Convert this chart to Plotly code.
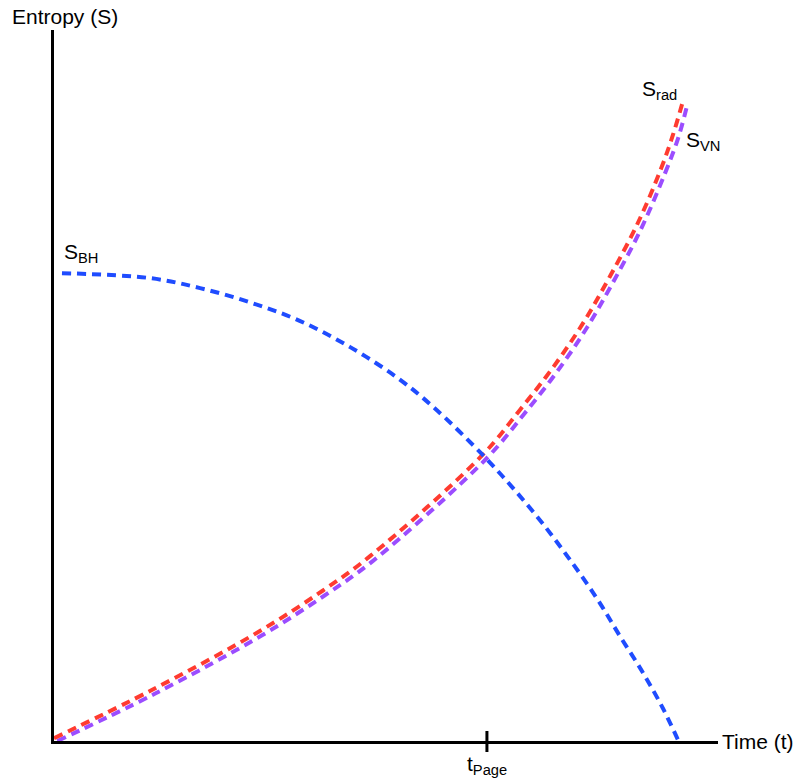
import plotly.graph_objects as go

# ---- data ----
t_bh = [0.12, 1.45, 2.20, 2.95, 3.70, 4.46, 5.17, 5.71, 6.46, 6.91, 7.35, 7.77, 8.18, 8.52, 8.87, 9.17, 9.40]
s_bh = [6.58, 6.51, 6.37, 6.17, 5.91, 5.54, 5.11, 4.70, 4.02, 3.56, 3.07, 2.55, 2.00, 1.48, 0.96, 0.46, 0.01]

t_rad = [0.00, 1.48, 3.07, 4.04, 4.76, 6.45, 7.02, 7.52, 7.97, 8.37, 8.78, 9.13, 9.32, 9.46]
s_rad = [0.04, 0.72, 1.53, 2.11, 2.60, 4.02, 4.66, 5.26, 5.88, 6.53, 7.26, 8.02, 8.52, 8.96]

t_vn = [0.05, 1.51, 3.12, 4.08, 4.80, 6.51, 7.08, 7.58, 8.03, 8.43, 8.84, 9.20, 9.40, 9.53]
s_vn = [0.00, 0.66, 1.48, 2.05, 2.53, 3.97, 4.60, 5.20, 5.82, 6.47, 7.20, 7.98, 8.48, 8.92]

t_page = 6.52

labels = {
    "bh": "S<sub>BH</sub>",
    "rad": "S<sub>rad</sub>",
    "vn": "S<sub>VN</sub>",
    "page": "t<sub>Page</sub>",
    "y": "Entropy (S)",
    "x": "Time (t)",
}

FONT = "Liberation Sans, Arial, Helvetica, sans-serif"
BLUE = "#1f4cff"
RED = "#ff3b30"
PURPLE = "#9b4dff"
DASH = "9px,6px"

fig = go.Figure()
fig.add_trace(go.Scatter(x=t_vn, y=s_vn, mode="lines", line=dict(color=PURPLE, width=4, dash=DASH, shape="spline"), hoverinfo="skip"))
fig.add_trace(go.Scatter(x=t_rad, y=s_rad, mode="lines", line=dict(color=RED, width=4, dash=DASH, shape="spline"), hoverinfo="skip"))
fig.add_trace(go.Scatter(x=t_bh, y=s_bh, mode="lines", line=dict(color=BLUE, width=4, dash=DASH, shape="spline"), hoverinfo="skip"))

PW = 664.0  # plot width in px
PH = 711.0  # plot height in px
# t_Page tick mark crossing the time axis
fig.add_shape(type="line", xref="x", yref="paper", x0=t_page, x1=t_page,
              y0=-11 / PH, y1=10 / PH, line=dict(color="black", width=3))

ann = []
ann.append(dict(text=labels["bh"], x=0.12, y=6.86, xref="x", yref="y", xanchor="left", yanchor="middle"))
ann.append(dict(text=labels["rad"], x=8.82, y=9.15, xref="x", yref="y", xanchor="left", yanchor="middle"))
ann.append(dict(text=labels["vn"], x=9.49, y=8.44, xref="x", yref="y", xanchor="left", yanchor="middle"))
ann.append(dict(text=labels["page"], x=t_page, y=-24 / PH, xref="x", yref="paper", xanchor="center", yanchor="middle"))
ann.append(dict(text=labels["y"], x=-44 / PW, y=1 + 14 / PH, xref="paper", yref="paper", xanchor="left", yanchor="middle"))
ann.append(dict(text=labels["x"], x=1 + 2 / PW, y=0, xref="paper", yref="paper", xanchor="left", yanchor="middle"))
for a in ann:
    a["showarrow"] = False
    a["font"] = dict(family=FONT, color="black", size=21)
fig.update_layout(annotations=ann)

axis_common = dict(range=[0, 10], showgrid=False, zeroline=False, showticklabels=False,
                   ticks="", showline=True, linewidth=3, linecolor="black", fixedrange=True)
fig.update_xaxes(**axis_common)
fig.update_yaxes(**axis_common)

fig.update_layout(
    width=798, height=778,
    margin=dict(l=54, r=80, t=30, b=37),
    plot_bgcolor="white", paper_bgcolor="white",
    showlegend=False,
    font=dict(family=FONT, color="black"),
)

fig.write_html(
    "out.html",
    config={"displayModeBar": False},
    post_script="document.body.style.margin='0';document.body.style.overflow='hidden';document.documentElement.style.overflow='hidden';",
)
